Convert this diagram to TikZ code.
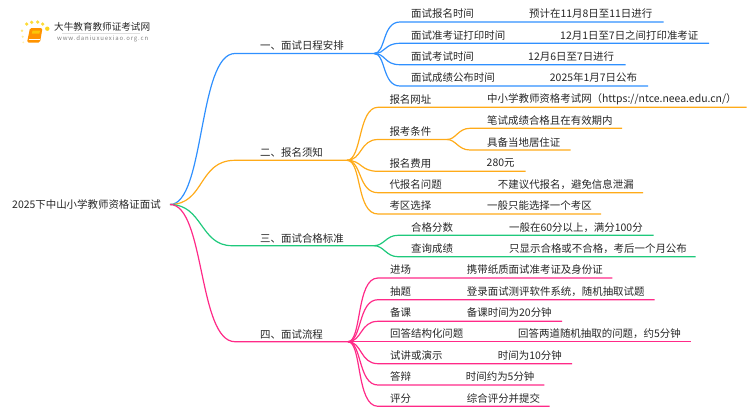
\documentclass[tikz,border=0pt]{standalone}
\usepackage{fontspec}
\setmainfont{Noto Sans CJK SC}
\definecolor{planblue}{HTML}{2f90ff}
\definecolor{noteorange}{HTML}{ffab19}
\definecolor{passgreen}{HTML}{1fc97c}
\definecolor{flowpink}{HTML}{ff2a88}
\definecolor{inktext}{HTML}{262626}
\tikzset{
  lab/.style={anchor=west,inner sep=0pt,yshift=-0.4pt,font=\fontsize{10.45pt}{12pt}\selectfont,text=inktext},
  branch/.style={line width=1.2pt},
}
\begin{document}
\begin{tikzpicture}[x=1pt,y=-1pt]
\useasboundingbox (0,0) rectangle (750,410);

% logo
\fill[yellow!70!orange,opacity=0.8] (26.7,24) circle (1.8);
\fill[yellow!70!orange,opacity=0.8] (31.7,22.3) circle (1.8);
\fill[yellow!70!orange,opacity=0.8] (37.7,22) circle (1.8);
\fill[yellow!70!orange,opacity=0.8] (42.7,24) circle (1.8);
\fill[yellow!70!orange,opacity=0.9] (47.3,28.7) circle (2.2);
\fill[yellow!70!orange,opacity=0.5] (22,30.7) circle (1.4);
\fill[yellow!70!orange,opacity=0.4] (22.7,36.7) circle (1.2);
\fill[yellow!70!orange,opacity=0.3] (23.3,42.3) circle (1);
\fill[orange!85!yellow,rounded corners=1.5pt] (30,28) -- (42.5,28) -- (40,42.5) -- (27,42.5) -- cycle;
\fill[yellow!60!orange] (32.5,30.5) -- (40,30.5) -- (39.4,33.5) -- (31.9,33.5) -- cycle;
\draw[white,line width=0.6pt] (28.5,39.5) -- (39.5,39.5);
\draw[gray!25,line width=0.5pt] (62,33) -- (140,33);
\node[anchor=west,inner sep=0pt,font=\fontsize{9.6pt}{11pt}\selectfont,text=inktext] (logotitle) at (54,27) {大牛教育教师证考试网};
\node[anchor=west,inner sep=0pt,font=\fontsize{6pt}{7pt}\selectfont,text=gray] (logourl) at (57,39) {\addfontfeature{LetterSpace=14}www.daniuxuexiao.org.cn};

% root
\node[lab] (root) at (12,204.5) {2025下中山小学教师资格证面试};
\coordinate (rootend) at (170,204.5);

% one
\node[lab] (one) at (260,45.5) {一、面试日程安排};
\coordinate (ones) at (235,53.5);
\coordinate (onee) at (374,53.5);
\draw[branch,planblue] (rootend) .. controls (205,204.5) and (198,53.5) .. (ones) -- (onee);

\node[lab] (time) at (411,13.5) {面试报名时间};
\node[lab] (timev) at (529,13.5) {预计在11月8日至11日进行};
\coordinate (times) at (400,22);
\coordinate (timee) at (663.7,22);
\draw[branch,planblue] (onee) .. controls (386,53.5) and (382,22) .. (times) -- (timee);

\node[lab] (print) at (411,35) {面试准考证打印时间};
\node[lab] (printv) at (560,35) {12月1日至7日之间打印准考证};
\coordinate (prints) at (400,43.3);
\coordinate (printe) at (709,43.3);
\draw[branch,planblue] (onee) .. controls (386,53.5) and (384,43.3) .. (prints) -- (printe);

\node[lab] (exam) at (411,56) {面试考试时间};
\node[lab] (examv) at (528,56) {12月6日至7日进行};
\coordinate (exams) at (400,64.7);
\coordinate (exame) at (625.7,64.7);
\draw[branch,planblue] (onee) .. controls (386,53.5) and (384,64.7) .. (exams) -- (exame);

\node[lab] (result) at (411,77.5) {面试成绩公布时间};
\node[lab] (resultv) at (549.7,77.5) {2025年1月7日公布};
\coordinate (results) at (400,86);
\coordinate (resulte) at (648,86);
\draw[branch,planblue] (onee) .. controls (386,53.5) and (382,86) .. (results) -- (resulte);

% two
\node[lab] (two) at (260,152.5) {二、报名须知};
\coordinate (twos) at (235,160.3);
\coordinate (twoe) at (347,160.3);
\draw[branch,noteorange] (rootend) .. controls (205,204.5) and (198,160.3) .. (twos) -- (twoe);

\node[lab] (site) at (389.3,99) {报名网址};
\node[lab] (sitev) at (487,99) {中小学教师资格考试网（https://ntce.neea.edu.cn/）};
\coordinate (sites) at (378,107.3);
\coordinate (sitee) at (746.7,107.3);
\draw[branch,noteorange] (twoe) .. controls (362,160.3) and (358,107.3) .. (sites) -- (sitee);

\node[lab] (cond) at (389.3,131) {报考条件};
\coordinate (conds) at (378,139.5);
\coordinate (conde) at (447,139.5);
\draw[branch,noteorange] (twoe) .. controls (362,160.3) and (360,139.5) .. (conds) -- (conde);

\node[lab] (pen) at (487,120) {笔试成绩合格且在有效期内};
\coordinate (pens) at (470,128.3);
\coordinate (pene) at (622,128.3);
\draw[branch,noteorange] (conde) .. controls (456,139.5) and (458,128.3) .. (pens) -- (pene);

\node[lab] (live) at (487,142) {具备当地居住证};
\coordinate (lives) at (470,150);
\coordinate (livee) at (570.7,150);
\draw[branch,noteorange] (conde) .. controls (456,139.5) and (458,150) .. (lives) -- (livee);

\node[lab] (fee) at (389.3,163) {报名费用};
\node[lab] (feev) at (486.5,163) {280元};
\coordinate (fees) at (378,171.3);
\coordinate (feee) at (525.7,171.3);
\draw[branch,noteorange] (twoe) .. controls (362,160.3) and (360,171.3) .. (fees) -- (feee);

\node[lab] (proxy) at (389.3,184) {代报名问题};
\node[lab] (proxyv) at (497.7,184) {不建议代报名，避免信息泄漏};
\coordinate (proxys) at (378,192.7);
\coordinate (proxye) at (643,192.7);
\draw[branch,noteorange] (twoe) .. controls (362,160.3) and (358,192.7) .. (proxys) -- (proxye);

\node[lab] (area) at (389.3,205.5) {考区选择};
\node[lab] (areav) at (487,205.5) {一般只能选择一个考区};
\coordinate (areas) at (378,214);
\coordinate (areae) at (601,214);
\draw[branch,noteorange] (twoe) .. controls (362,160.3) and (356,214) .. (areas) -- (areae);

% three
\node[lab] (three) at (260,238) {三、面试合格标准};
\coordinate (threes) at (232,245.7);
\coordinate (threee) at (374,245.7);
\draw[branch,passgreen] (rootend) .. controls (203,204.5) and (200,245.7) .. (threes) -- (threee);

\node[lab] (score) at (411,227) {合格分数};
\node[lab] (scorev) at (509,227) {一般在60分以上，满分100分};
\coordinate (scores) at (398,235.3);
\coordinate (scoree) at (653.7,235.3);
\draw[branch,passgreen] (threee) .. controls (384,245.7) and (386,235.3) .. (scores) -- (scoree);

\node[lab] (query) at (411,248.5) {查询成绩};
\node[lab] (queryv) at (509,248.5) {只显示合格或不合格，考后一个月公布};
\coordinate (querys) at (398,256.7);
\coordinate (querye) at (695.7,256.7);
\draw[branch,passgreen] (threee) .. controls (384,245.7) and (386,256.7) .. (querys) -- (querye);

% four
\node[lab] (four) at (260,334) {四、面试流程};
\coordinate (fours) at (235,341.7);
\coordinate (foure) at (348,341.7);
\draw[branch,flowpink] (rootend) .. controls (205,204.5) and (198,341.7) .. (fours) -- (foure);

\node[lab] (enter) at (390,269.5) {进场};
\node[lab] (enterv) at (466.7,269.5) {携带纸质面试准考证及身份证};
\coordinate (enters) at (378,278);
\coordinate (entere) at (612.3,278);
\draw[branch,flowpink] (foure) .. controls (362,341.7) and (356,278) .. (enters) -- (entere);

\node[lab] (draw) at (390,291) {抽题};
\node[lab] (drawv) at (466.7,291) {登录面试测评软件系统，随机抽取试题};
\coordinate (draws) at (378,299.7);
\coordinate (drawe) at (654.7,299.7);
\draw[branch,flowpink] (foure) .. controls (362,341.7) and (358,299.7) .. (draws) -- (drawe);

\node[lab] (prep) at (390,312.5) {备课};
\node[lab] (prepv) at (466.7,312.5) {备课时间为20分钟};
\coordinate (preps) at (378,321.3);
\coordinate (prepe) at (562,321.3);
\draw[branch,flowpink] (foure) .. controls (362,341.7) and (360,321.3) .. (preps) -- (prepe);

\node[lab] (ans) at (390,333.5) {回答结构化问题};
\node[lab] (ansv) at (518,333.5) {回答两道随机抽取的问题，约5分钟};
\coordinate (anse) at (690.7,341.7);
\draw[branch,flowpink] (foure) -- (anse);

\node[lab] (talk) at (390,355) {试讲或演示};
\node[lab] (talkv) at (497.7,355) {时间为10分钟};
\coordinate (talks) at (378,363.7);
\coordinate (talke) at (572,363.7);
\draw[branch,flowpink] (foure) .. controls (362,341.7) and (360,363.7) .. (talks) -- (talke);

\node[lab] (reply) at (390,376.5) {答辩};
\node[lab] (replyv) at (465.7,376.5) {时间约为5分钟};
\coordinate (replys) at (378,385);
\coordinate (replye) at (544.3,385);
\draw[branch,flowpink] (foure) .. controls (362,341.7) and (358,385) .. (replys) -- (replye);

\node[lab] (mark) at (390,398) {评分};
\node[lab] (markv) at (466.7,398) {综合评分并提交};
\coordinate (marks) at (378,406.3);
\coordinate (marke) at (549.7,406.3);
\draw[branch,flowpink] (foure) .. controls (362,341.7) and (356,406.3) .. (marks) -- (marke);

\end{tikzpicture}
\end{document}
